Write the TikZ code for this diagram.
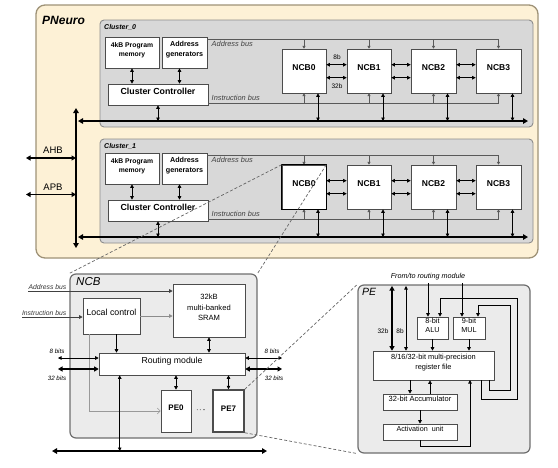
\documentclass[tikz,border=0pt]{standalone}
\usepackage{fontspec}
\setmainfont{Liberation Sans}
\usetikzlibrary{arrows.meta,calc,fit}
\definecolor{pnfill}{HTML}{FDF1D6}
\definecolor{pnline}{HTML}{9E9277}
\definecolor{clfill}{HTML}{D8D8D8}
\definecolor{clline}{HTML}{8C8C8C}
\definecolor{panfill}{HTML}{EBEBEB}
\definecolor{panline}{HTML}{6E6E6E}
\newcommand\myfs[2]{\fontsize{#1}{#2}\selectfont}
\tikzset{
 pnbox/.style={draw=pnline, fill=pnfill, line width=1.3pt, rounded corners=9pt, inner sep=0pt},
 clbox/.style={draw=clline, fill=clfill, line width=0.9pt, rounded corners=4pt, inner sep=0pt},
 panbox/.style={draw=panline, fill=panfill, line width=1.2pt, rounded corners=6pt, inner sep=0pt},
 wbox/.style={draw=black!70, fill=white, line width=0.6pt, inner sep=0pt, align=center},
 ncbn/.style={wbox, font=\myfs{8.5}{10}\bfseries},
 arr/.style={-{Triangle[length=3.5pt,width=3.5pt]}, line width=0.7pt},
 darr/.style={{Triangle[length=3.5pt,width=3.5pt]}-{Triangle[length=3.5pt,width=3.5pt]}, line width=0.7pt},
 bus/.style={{Triangle[length=5pt,width=5.5pt]}-{Triangle[length=5pt,width=5.5pt]}, line width=2.2pt},
 midbus/.style={{Triangle[length=4.5pt,width=5pt]}-{Triangle[length=4.5pt,width=5pt]}, line width=1.6pt},
 sbus/.style={line width=0.6pt, draw=black!65},
 sarr/.style={-{Triangle[length=2.8pt,width=3pt]}, line width=0.5pt, draw=black!65},
 zoomline/.style={draw=black!60, line width=0.7pt, dash pattern=on 3pt off 2pt},
 itl/.style={font=\myfs{7.4}{8}\itshape, text=black!75, inner sep=0.5pt},
 itn/.style={font=\myfs{6.8}{8}\itshape, text=black!80, inner sep=0.5pt},
}
\begin{document}
\begin{tikzpicture}[x=1pt,y=-1pt]
\useasboundingbox (0,0) rectangle (558,467);

% ---------------- PNeuro ----------------
\node[pnbox, fit={(36,5) (538,258)}] (pn) {};
\node[anchor=west, font=\myfs{12}{14}\bfseries\itshape, inner sep=0pt] (pnl) at (42,20) {PNeuro};

\foreach \c/\o/\ob in {0/0/0,1/116/119}{
  \node[clbox, fit={(100,20+\ob) (533,127+\o)}] (cl\c) {};
  \node[anchor=west, font=\myfs{7}{8}\bfseries\itshape, inner sep=0pt] (cll\c) at (104,27+\ob) {Cluster\_\c};
  \node[wbox, font=\myfs{6.8}{9}\bfseries, fit={(105,37+\o) (159,68+\o)}] (pm\c) {4kB Program\\memory};
  \node[wbox, font=\myfs{7.2}{9.5}\bfseries, fit={(162,37+\o) (207,68+\o)}] (ag\c) {Address\\generators};
  \node[wbox, font=\myfs{8.8}{10}\bfseries, fit={(108,84+\o) (208,105+\o)}] (cc\c) {Cluster Controller};
  \node[itl, anchor=west] (abl\c) at (211,44+\o) {Address bus};
  \node[itl, anchor=west] (ibl\c) at (211,98+\o) {Instruction bus};
  \foreach \i/\xa/\xb in {0/282/326,1/347/391,2/411/456,3/476/521}{
    \node[ncbn, fit={(\xa,49+\o) (\xb,93+\o)}] (n\c\i) {NCB\i};
  }
  \coordinate (ab\c) at (207,39+\o);
  \coordinate (ib\c) at (208,103+\o);
  \coordinate (bl\c) at (78,121+\o);
  \coordinate (br\c) at (528,121+\o);
  \draw[sbus] (ab\c) -- (n\c3.north |- ab\c);
  \draw[sbus] (ib\c) -- (n\c3.south |- ib\c);
  \draw[bus] (bl\c) -- (br\c);
  \draw[darr] (pm\c.south) -- (pm\c.south |- cc\c.north);
  \draw[darr] ($(ag\c.south)+(-5,0)$) coordinate (agd\c) -- (agd\c |- cc\c.north);
  \draw[darr] (cc\c.south) -- (cc\c.south |- bl\c);
  \foreach \i in {0,1,2,3}{
    \draw[sarr] (n\c\i.north |- ab\c) -- (n\c\i.north);
    \draw[sarr] (n\c\i.south |- ib\c) -- (n\c\i.south);
    \coordinate (d\c\i) at ($(n\c\i.south)+(14,0)$);
    \draw[darr] (d\c\i) -- (d\c\i |- bl\c);
  }
  \foreach \i/\j in {0/1,1/2,2/3}{
    \draw[darr] ($(n\c\i.north east)+(0,16)$) -- ($(n\c\j.north west)+(0,16)$);
    \draw[darr] ($(n\c\i.north east)+(0,29)$) -- ($(n\c\j.north west)+(0,29)$);
  }
}
\draw[line width=1.5pt, draw=black] (n10.north west) rectangle (n10.south east);
\node[font=\myfs{6.5}{7}, inner sep=0pt] (l8b) at (337,57) {8b};
\node[font=\myfs{6.5}{7}, inner sep=0pt] (l32b) at (337,86) {32b};

% vertical system bus
\coordinate (vt) at (76,108);
\coordinate (vb) at (76,248);
\draw[bus] (vt) -- (vb);
\coordinate (ahbl) at (26,158);
\coordinate (apbl) at (26,194.5);
\draw[midbus] (ahbl) -- (ahbl -| vt);
\draw[midbus, line width=1.3pt] (apbl) -- (apbl -| vt);
\node[font=\myfs{9.5}{10}, inner sep=0pt] (ahb) at (53,150) {AHB};
\node[font=\myfs{9.5}{10}, inner sep=0pt] (apb) at (53,187.5) {APB};

% ---------------- NCB panel ----------------
\node[panbox, fit={(70,274) (257,438)}] (ncb) {};
\node[anchor=north west, font=\myfs{11.5}{12}\itshape, inner sep=0pt] (ncbl) at (76,277) {NCB};
\node[wbox, font=\myfs{8.8}{10}, fit={(83,298) (140,334)}] (lc) {Local control};
\node[wbox, font=\myfs{7.6}{10.5}, fit={(173,284) (245,337)}] (sram) {32kB\\multi-banked\\SRAM};
\node[wbox, font=\myfs{8.7}{10}, fit={(99,353) (245,375)}] (rm) {Routing module};
\node[wbox, font=\myfs{8}{9}\bfseries, fit={(161,390) (191,432)}] (pe0) {PE0};
\node[wbox, font=\myfs{8}{9}\bfseries, line width=1.5pt, fit={(213,390) (244,432)}] (pe7) {PE7};
\node[font=\myfs{9}{10}\bfseries, inner sep=0pt] (dots) at (201,410) {$\cdot\!\cdot\!\cdot\!\cdot$};

\coordinate (aL) at (28,291);
\coordinate (iL) at (22,317);
\node[itn, anchor=south east] (nabl) at (67,290) {Address bus};
\node[itn, anchor=south east] (nibl) at (67,316) {Instruction bus};
\draw[arr, draw=black!75] (aL) -- (aL -| sram.west);
\draw[arr, draw=black!75] (iL) -- (iL -| lc.west);
\draw[arr, draw=black!45] (lc.east) -- (lc.east -| sram.west);
\coordinate (lcd) at ($(lc.south)+(5,0)$);
\draw[arr] (lcd) -- (lcd |- rm.north);
\draw[darr] (sram.south) -- (sram.south |- rm.north);
\draw[darr] (pe0.north |- rm.south) -- (pe0.north);
\draw[darr] (pe7.north |- rm.south) -- (pe7.north);
\coordinate (g1) at ($(lc.south west)+(7,0)$);
\draw[draw=black!40, line width=0.6pt, -{Straight Barb[length=3pt,width=6pt]}] (g1) |- (pe0.west);
\coordinate (nbl) at (52,451);
\coordinate (nbr) at (267,451);
\draw[bus] (nbl) -- (nbr);
\coordinate (rbd) at ($(rm.south west)+(21,0)$);
\draw[darr] (rbd) -- (rbd |- nbl);
\coordinate (e8l) at (58,358);
\coordinate (e32l) at (58,369);
\coordinate (e8r) at (282,358);
\coordinate (e32r) at (282,369);
\draw[darr, line width=0.6pt] (e8l) -- (e8l -| rm.west);
\draw[midbus, line width=1.8pt] (e32l) -- (e32l -| rm.west);
\draw[darr, line width=0.6pt] (e8r) -- (e8r -| rm.east);
\draw[midbus, line width=1.8pt] (e32r) -- (e32r -| rm.east);
\node[font=\myfs{6.2}{7}\itshape, inner sep=0pt] (b8l) at (57,351) {8 bits};
\node[font=\myfs{6.2}{7}\itshape, inner sep=0pt] (b32l) at (57,378) {32 bits};
\node[font=\myfs{6.2}{7}\itshape, inner sep=0pt] (b8r) at (272,351.5) {8 bits};
\node[font=\myfs{6.2}{7}\itshape, inner sep=0pt] (b32r) at (274,378) {32 bits};

% ---------------- PE panel ----------------
\node[panbox, fit={(358,285) (530,453)}] (pebox) {};
\node[anchor=north west, font=\myfs{10.5}{11}\itshape, inner sep=0pt] (pel) at (362,288) {PE};
\node[font=\myfs{7.2}{8}\itshape, inner sep=0pt] (ftr) at (428,277) {From/to routing module};
\node[wbox, font=\myfs{7.3}{9}, fit={(417,317) (448,339)}] (alu) {8-bit\\ALU};
\node[wbox, font=\myfs{7.3}{9}, fit={(453,317) (485,339)}] (mul) {9-bit\\MUL};
\node[wbox, font=\myfs{7.4}{10.5}, fit={(373,351) (494,380)}] (reg) {8/16/32-bit multi-precision\\register file};
\node[wbox, font=\myfs{7.5}{9}, fit={(383,394) (457,410)}] (acc) {32-bit Accumulator};
\node[wbox, font=\myfs{7.2}{9}, fit={(383,424) (457,440)}] (act) {Activation\ \ unit};

\coordinate (p32) at (392,286);
\coordinate (p8) at (406,286);
\draw[midbus, line width=2pt] (p32) -- (p32 |- reg.north);
\draw[darr, line width=0.6pt] (p8) -- (p8 |- reg.north);
\node[font=\myfs{6.5}{7}, inner sep=0pt] (t32) at (383,331) {32b};
\node[font=\myfs{6.5}{7}, inner sep=0pt] (t8) at (400,331) {8b};
\coordinate (ain) at (428,283);
\coordinate (min) at (462,283);
\draw[arr] (ain) -- (ain |- alu.north);
\draw[arr] (min) -- (min |- mul.north);
\draw[arr] (alu.south) -- (alu.south |- reg.north);
\draw[arr] (mul.south) -- (mul.south |- reg.north);
\coordinate (ra) at ($(acc.north)+(-10,0)$);
\coordinate (ar) at ($(acc.north)+(10,0)$);
\draw[arr] (ra |- reg.south) -- (ra);
\draw[arr] (ar) -- (ar |- reg.south);
\draw[arr] (acc.south) -- (act.north);
\coordinate (actb) at ($(act.south)+(0,6)$);
\coordinate (regin) at (470,380);
\draw[arr] (act.south) -- (actb) -| (regin);
% feedback loops
\coordinate (lo1) at (481,380);
\coordinate (lo2) at (517,399);
\coordinate (lo3) at (440,298);
\draw[arr] (lo1) |- (lo2) |- (lo3) -- (lo3 |- alu.north);
\coordinate (li1) at (489,380);
\coordinate (li2) at (510,390);
\coordinate (li3) at (478,305);
\draw[arr] (li1) |- (li2) |- (li3) -- (li3 |- mul.north);

% ---------------- zoom lines ----------------
\draw[zoomline] (n10.north west) -- (ncb.north west);
\draw[zoomline] (n10.north east) -- (ncb.north east);
\draw[zoomline] (pe7.north east) -- (pebox.north west);
\draw[zoomline] (pe7.south east) -- (pebox.south west);
\end{tikzpicture}
\end{document}
